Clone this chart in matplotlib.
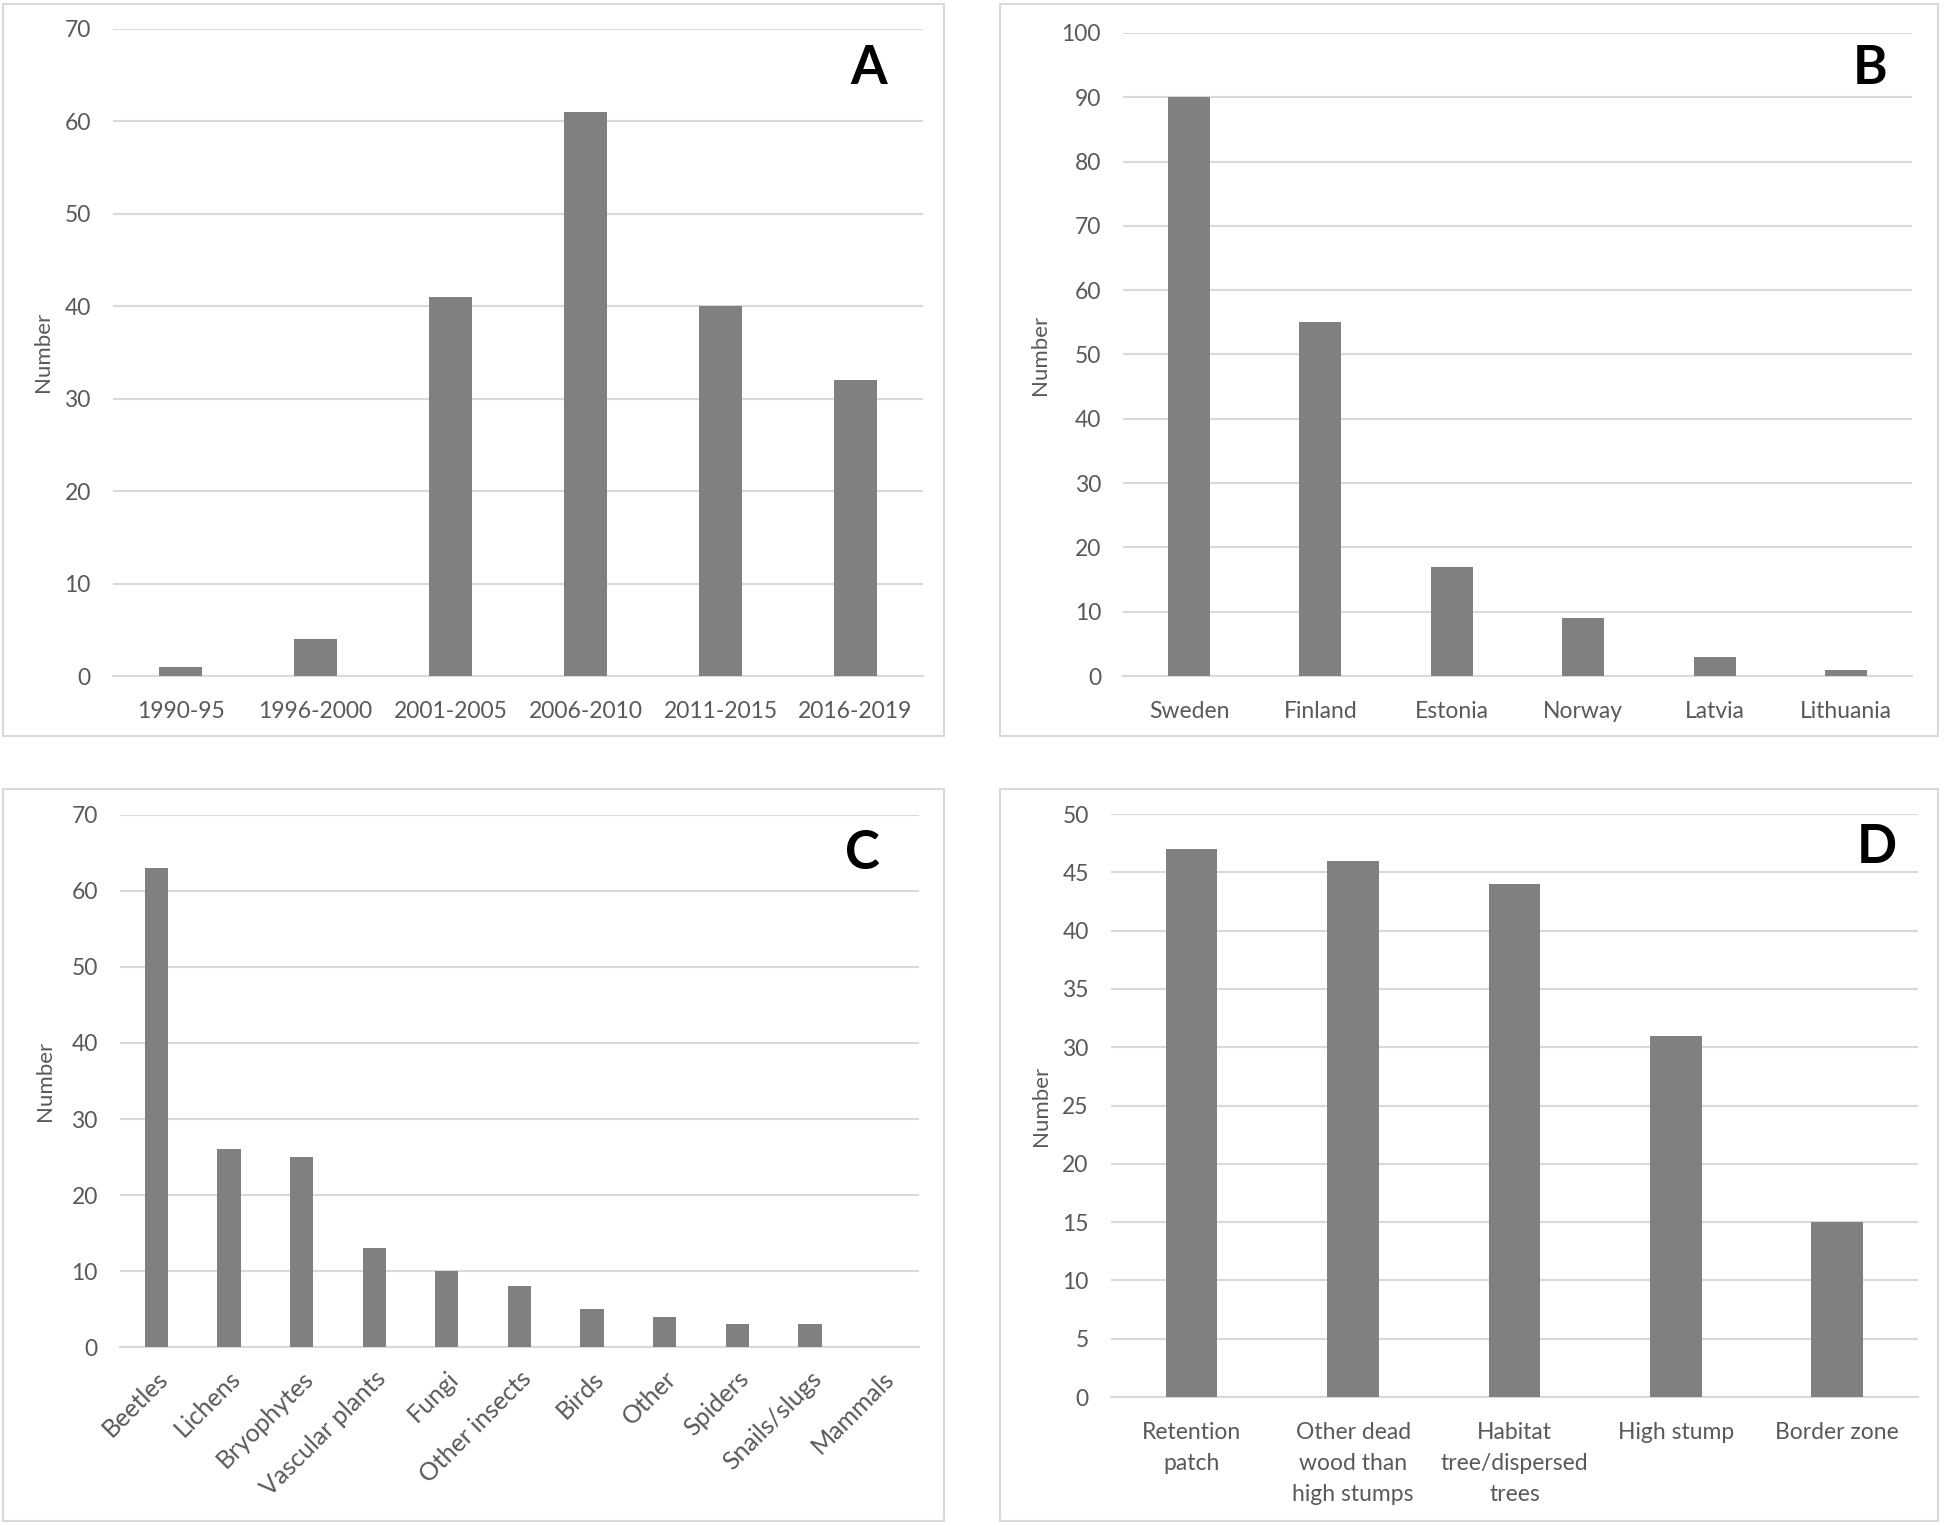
#!/usr/bin/env python3
"""Four-panel bar chart (A-D): number of studies by period, country, taxon and retention type."""
import numpy as np
import matplotlib
matplotlib.use('Agg')
import matplotlib.pyplot as plt
from matplotlib.patches import Rectangle

plt.rcParams['font.family'] = ['Lato', 'DejaVu Sans']

# --- data ---
periods = ['1990-95', '1996-2000', '2001-2005', '2006-2010', '2011-2015', '2016-2019']
period_counts = [1, 4, 41, 61, 40, 32]

countries = ['Sweden', 'Finland', 'Estonia', 'Norway', 'Latvia', 'Lithuania']
country_counts = [90, 55, 17, 9, 3, 1]

taxa = ['Beetles', 'Lichens', 'Bryophytes', 'Vascular plants', 'Fungi', 'Other insects',
        'Birds', 'Other', 'Spiders', 'Snails/slugs', 'Mammals']
taxa_counts = [63, 26, 25, 13, 10, 8, 5, 4, 3, 3, 0]

retention = ['Retention\npatch', 'Other dead\nwood than\nhigh stumps',
             'Habitat\ntree/dispersed\ntrees', 'High stump', 'Border zone']
retention_counts = [47, 46, 44, 31, 15]

BAR = '#808080'
GRID = '#d9d9d9'
TXT = '#595959'
TICK_FS = 16.5


def bar_panel(fig, rect, frame, labels, values, ymax, ystep, letter, letter_xy,
              ylabel_x, rot=0):
    # light grey frame around each panel, like the Excel chart area
    fig.patches.append(Rectangle((frame[0], frame[1]), frame[2], frame[3],
                                 transform=fig.transFigure, fill=False,
                                 edgecolor=GRID, linewidth=1.5))
    ax = fig.add_axes(rect)
    x = np.arange(len(labels))
    ax.bar(x, values, width=0.32, color=BAR, zorder=3)
    ax.set_xlim(-0.5, len(labels) - 0.5)
    ax.set_ylim(0, ymax)
    ax.set_yticks(np.arange(0, ymax + 1, ystep))
    ax.yaxis.grid(True, color=GRID, linewidth=1.5, zorder=0)
    for s in ['top', 'right', 'left']:
        ax.spines[s].set_visible(False)
    ax.spines['bottom'].set_color(GRID)
    ax.spines['bottom'].set_linewidth(1.5)
    ax.tick_params(length=0, labelsize=TICK_FS, labelcolor=TXT)
    ax.tick_params(axis='y', pad=16)
    ax.set_xticks(x)
    if rot:
        ax.tick_params(axis='x', pad=14)
        ax.set_xticklabels(labels, rotation=rot, ha='right', rotation_mode='anchor',
                           fontsize=18)
    else:
        ax.tick_params(axis='x', pad=18)
        ax.set_xticklabels(labels, linespacing=1.6, va='top')
    # y label placed in figure coords, vertically centred on the axes
    fig.text(ylabel_x, rect[1] + rect[3] / 2, 'Number', rotation=90,
             fontsize=16, color=TXT, ha='center', va='center')
    fig.text(letter_xy[0], letter_xy[1], letter, fontsize=38, fontweight='bold',
             color='black', ha='center', va='center')
    return ax


fig = plt.figure(figsize=(19.46, 15.25), dpi=100)

bar_panel(fig, [0.0581, 0.5567, 0.4162, 0.4245], [0.0013, 0.5175, 0.4840, 0.4801],
          periods, period_counts, 70, 10, 'A', (0.4464, 0.9552), 0.0223)
bar_panel(fig, [0.5772, 0.5567, 0.4053, 0.4217], [0.514, 0.5175, 0.482, 0.4801],
          countries, country_counts, 100, 10, 'B', (0.9611, 0.9552), 0.5344)
bar_panel(fig, [0.0617, 0.1167, 0.4105, 0.3489], [0.0013, 0.0024, 0.4840, 0.4801],
          taxa, taxa_counts, 70, 10, 'C', (0.4432, 0.4402), 0.0230, rot=45)
bar_panel(fig, [0.5709, 0.0839, 0.4147, 0.3823], [0.514, 0.0024, 0.482, 0.4801],
          retention, retention_counts, 50, 5, 'D', (0.9643, 0.4443), 0.5350)

fig.savefig('out.png', dpi=100, facecolor='white')
